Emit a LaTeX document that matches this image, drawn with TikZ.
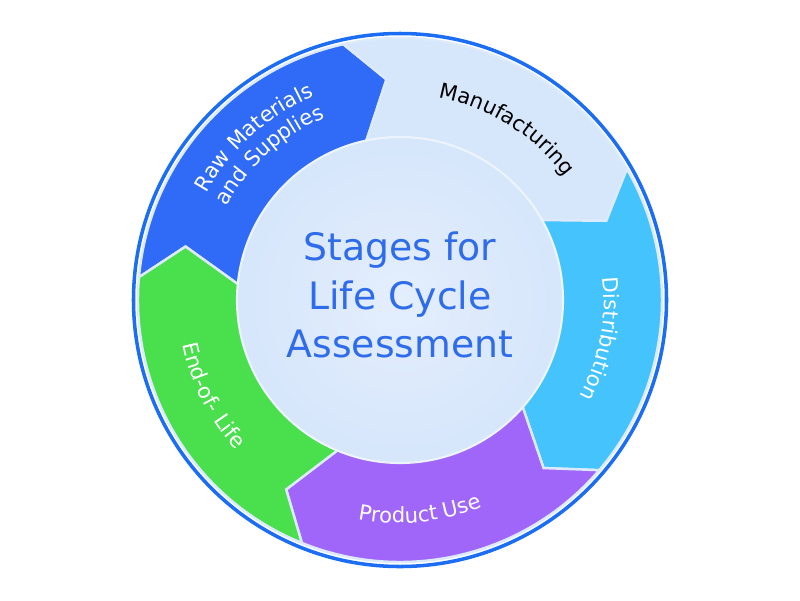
\documentclass[tikz,border=0pt]{standalone}
\usepackage{fontspec}
\setmainfont{DejaVu Sans}
\usetikzlibrary{decorations.text}

\definecolor{ringblue}{HTML}{1B6EF3}
\definecolor{rawblue}{HTML}{2F6BF6}
\definecolor{manublue}{HTML}{D6E6FB}
\definecolor{distblue}{HTML}{45C3FC}
\definecolor{usepurple}{HTML}{A066F9}
\definecolor{eolgreen}{HTML}{4ADF4C}
\definecolor{gapblue}{HTML}{DCEAFB}
\definecolor{hubin}{HTML}{E4EEFD}
\definecolor{hubout}{HTML}{D6E6FB}
\definecolor{titleblue}{HTML}{2E6CEB}

\newcommand\lblfont{\fontsize{12}{14}\selectfont}

\tikzset{
	stage/.style={draw=gapblue, line width=1.4pt},
	lbl/.style 2 args={decorate, decoration={text along path, text align=center, text color=#1, text={|\lblfont|#2}}}
}

\begin{document}
\begin{tikzpicture}
	\path[fill=white] (-8,-6) rectangle (8,6);
	\draw[ringblue, line width=2pt] (0,0) circle (5.33);
	% five stages, clockwise
	\foreach \a/\b/\col in {175/102.5/rawblue, 102.5/30/manublue, 30/-40.5/distblue, -40.5/-112/usepurple, -112/-185/eolgreen}
		\filldraw[stage, fill=\col] (\a:5.24) arc[start angle=\a, end angle=\b, radius=5.24] -- ({\b-9}:4.42) -- (\b:3.2) arc[start angle=\b, end angle=\a, radius=3.2] -- ({\a-9}:4.42) -- cycle;
	\node[circle, minimum size=6.52cm, inner sep=0pt, shade, inner color=hubin, outer color=hubout, draw=gapblue!50!white, line width=1.2pt] (hub) at (0,0) {};
	\node[align=center, text=titleblue, font=\fontsize{21.5}{27.8}\selectfont] (title) at (0,0.1) {Stages for\\Life Cycle\\Assessment};
	% labels
	\path[lbl={white}{Raw Materials}] (177:4.42) arc[start angle=177, end angle=87, radius=4.42];
	\path[lbl={white}{and Supplies}] (177:3.94) arc[start angle=177, end angle=87, radius=3.94];
	\path[lbl={black}{Manufacturing}] (103:4.12) arc[start angle=103, end angle=13, radius=4.12];
	\path[lbl={white}{Distribution}] (34:4.08) arc[start angle=34, end angle=-56, radius=4.08];
	\path[lbl={white}{Product Use}] (-129.6:4.46) arc[start angle=-129.6, end angle=-39.6, radius=4.46];
	\path[lbl={white}{End-of- Life}] (162:4.44) arc[start angle=162, end angle=252, radius=4.44];
\end{tikzpicture}
\end{document}
